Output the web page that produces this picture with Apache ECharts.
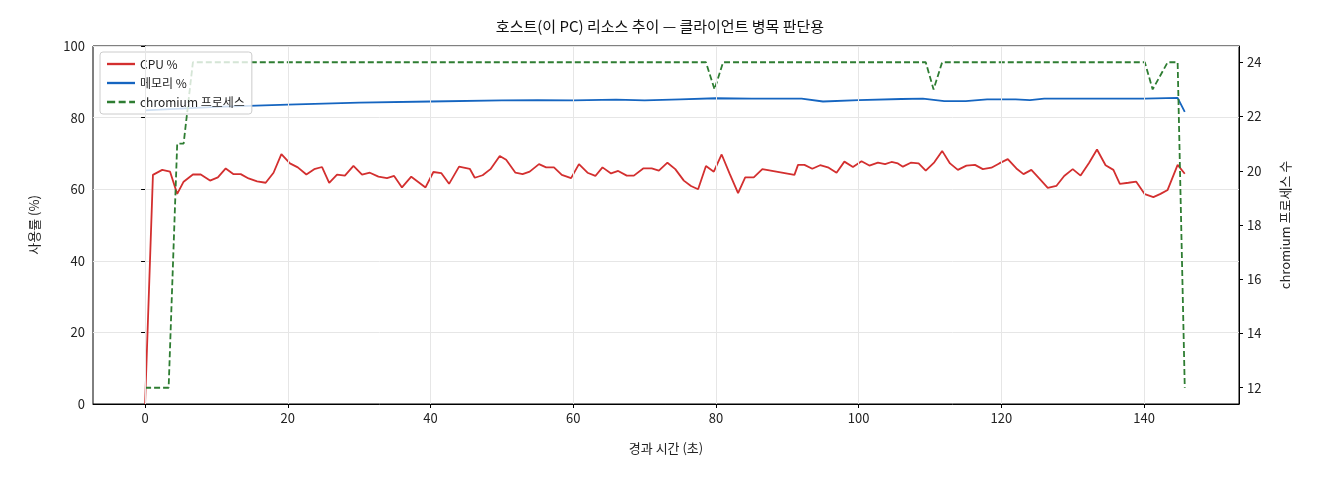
<!DOCTYPE html>
<html><head><meta charset="utf-8">
<script src="https://cdn.jsdelivr.net/npm/echarts@6/dist/echarts.min.js"></script>
<style>html,body{margin:0;padding:0;background:#fff}#c{width:1320px;height:480px}</style>
</head><body><div id="c"></div>
<script>
const timeS = [0,1.1,2.4,3.5,4.5,5.4,6.7,7.8,9.1,10.2,11.3,12.4,13.4,14.5,15.7,16.9,18.0,19.1,20.3,21.4,22.6,23.7,24.8,25.8,26.9,28.0,29.2,30.4,31.5,32.7,33.9,34.9,36.0,37.3,39.3,40.4,41.5,42.6,44.0,45.5,46.2,47.3,48.4,49.7,50.6,51.9,52.9,53.9,55.2,56.2,57.3,58.4,59.7,60.8,62.0,63.1,64.1,65.3,66.3,67.5,68.5,69.8,71.0,72.0,73.2,74.3,75.5,76.5,77.5,78.6,79.7,80.8,81.9,83.1,84.1,85.3,86.5,91.0,91.5,92.4,93.5,94.6,95.8,96.9,98.0,99.2,100.4,101.5,102.7,103.7,104.6,105.5,106.2,107.3,108.4,109.4,110.6,111.7,112.8,113.9,115.1,116.3,117.4,118.6,119.7,120.9,122.1,123.1,124.2,125.3,126.5,127.7,128.8,130.0,131.1,132.3,133.4,134.6,135.7,136.6,137.8,138.9,140.1,141.3,142.3,143.3,144.7,145.7];
const cpuPct = [0,64.0,65.4,64.9,58.7,62.1,64.1,64.1,62.4,63.3,65.8,64.2,64.2,63.0,62.2,61.8,64.6,69.8,67.2,66.1,64.1,65.6,66.2,61.8,64.1,63.8,66.5,64.1,64.6,63.5,63.1,63.7,60.5,63.5,60.5,64.8,64.5,61.5,66.3,65.7,63.2,63.9,65.6,69.3,68.2,64.6,64.2,64.9,67.0,66.1,66.1,64.0,63.1,67.0,64.6,63.7,66.1,64.4,65.1,63.8,63.8,65.8,65.8,65.2,67.4,65.6,62.4,60.9,60.0,66.5,64.9,69.7,64.4,58.9,63.3,63.3,65.6,64.0,66.8,66.8,65.7,66.7,66.0,64.6,67.7,66.2,67.8,66.6,67.4,67.0,67.6,67.2,66.3,67.4,67.2,65.2,67.5,70.7,67.2,65.4,66.6,66.8,65.6,66.0,67.2,68.4,65.8,64.2,65.4,63.0,60.4,60.9,63.7,65.6,63.8,67.4,71.1,66.7,65.4,61.5,61.8,62.1,58.6,57.8,58.7,59.8,66.8,64.3];
const memTime = [0,10,20,30,40,50,55,60,66,70,75,80,85,88,92,95,100,106,109,112,115,118,122,124,126,130,135,140,144.7,145.7];
const memPct = [82.0,83.0,83.6,84.2,84.5,84.8,84.9,84.8,85.0,84.8,85.1,85.4,85.3,85.3,85.3,84.5,84.9,85.2,85.3,84.6,84.6,85.1,85.1,84.9,85.3,85.3,85.3,85.3,85.5,81.6];
const procTime = [0,3.3,4.5,5.4,6.7,78.6,79.8,81.0,109.4,110.5,111.7,140.1,141.2,143.3,144.7,145.7];
const procCount = [12,12,21,21,24,24,23,24,24,23,24,24,23,24,24,12];
const xTicks = [0,20,40,60,80,100,120,140];
const yRightTicks = [12,14,16,18,20,22,24];

const pair = (a,b)=>a.map((t,i)=>[t,b[i]]);
const font = "'Noto Sans CJK KR', 'DejaVu Sans', sans-serif";
const chart = echarts.init(document.getElementById('c'));
chart.setOption({
  animation:false,
  textStyle:{fontFamily:font},
  title:{text:'호스트(이 PC) 리소스 추이 — 클라이언트 병목 판단용',left:'center',top:14,textStyle:{fontSize:15,fontWeight:'normal',color:'#111',fontFamily:font}},
  grid:{left:93,right:81,top:46,bottom:76,show:true,borderColor:'#000',borderWidth:1,backgroundColor:'transparent'},
  legend:{left:100,top:52,orient:'vertical',itemGap:7,itemWidth:28,itemHeight:10,padding:[6,7],
    borderColor:'#ccc',borderWidth:1,borderRadius:3,backgroundColor:'rgba(255,255,255,0.8)',
    textStyle:{fontSize:12,color:'#222'},
    data:[{name:'CPU %',icon:'path://M0,5L24,5L24,7L0,7Z'},{name:'메모리 %',icon:'path://M0,5L24,5L24,7L0,7Z'},{name:'chromium 프로세스',icon:'path://M0,5L7,5L7,7L0,7ZM10,5L16,5L16,7L10,7ZM19,5L24,5L24,7L19,7Z'}]},
  xAxis:{type:'value',min:-7.3,max:153.3,name:'경과 시간 (초)',nameLocation:'middle',nameGap:38,
    nameTextStyle:{fontSize:13,color:'#222'},
    axisLine:{show:true,onZero:false,lineStyle:{color:'#000'}},
    axisTick:{show:true,customValues:xTicks,length:4,lineStyle:{color:'#000'}},
    axisLabel:{customValues:xTicks,fontSize:13,color:'#222',margin:8},
    splitLine:{show:false}},
  yAxis:[
    {type:'value',min:0,max:100,interval:20,name:'사용률 (%)',nameLocation:'middle',nameGap:52,
     nameTextStyle:{fontSize:13,color:'#222'},
     axisLine:{show:true,lineStyle:{color:'#000'}},axisTick:{show:true,length:4,lineStyle:{color:'#000'}},
     axisLabel:{fontSize:13,color:'#222'},splitLine:{show:true,lineStyle:{color:'#e6e6e6'}}},
    {type:'value',min:11.4,max:24.6,position:'right',name:'chromium 프로세스 수',nameLocation:'middle',nameGap:40,
     nameTextStyle:{fontSize:13,color:'#222'},
     axisLine:{show:true,lineStyle:{color:'#000'}},
     axisTick:{show:true,customValues:yRightTicks,length:4,lineStyle:{color:'#000'}},
     axisLabel:{customValues:yRightTicks,fontSize:13,color:'#222'},splitLine:{show:false}}
  ],
  series:[
    {name:'CPU %',type:'line',data:pair(timeS,cpuPct),showSymbol:false,lineStyle:{color:'#d32f2f',width:1.8},itemStyle:{color:'#d32f2f'},
     markLine:{silent:true,symbol:'none',label:{show:false},lineStyle:{color:'#e6e6e6',type:'solid',width:1},data:xTicks.map(v=>({xAxis:v}))},z:3},
    {name:'메모리 %',type:'line',data:pair(memTime,memPct),showSymbol:false,lineStyle:{color:'#1565c0',width:1.8},itemStyle:{color:'#1565c0'},z:3},
    {name:'chromium 프로세스',type:'line',yAxisIndex:1,data:pair(procTime,procCount),showSymbol:false,lineStyle:{color:'#2e7d32',width:1.8,type:[6,3]},itemStyle:{color:'#2e7d32'},z:3}
  ]
});
</script></body></html>
